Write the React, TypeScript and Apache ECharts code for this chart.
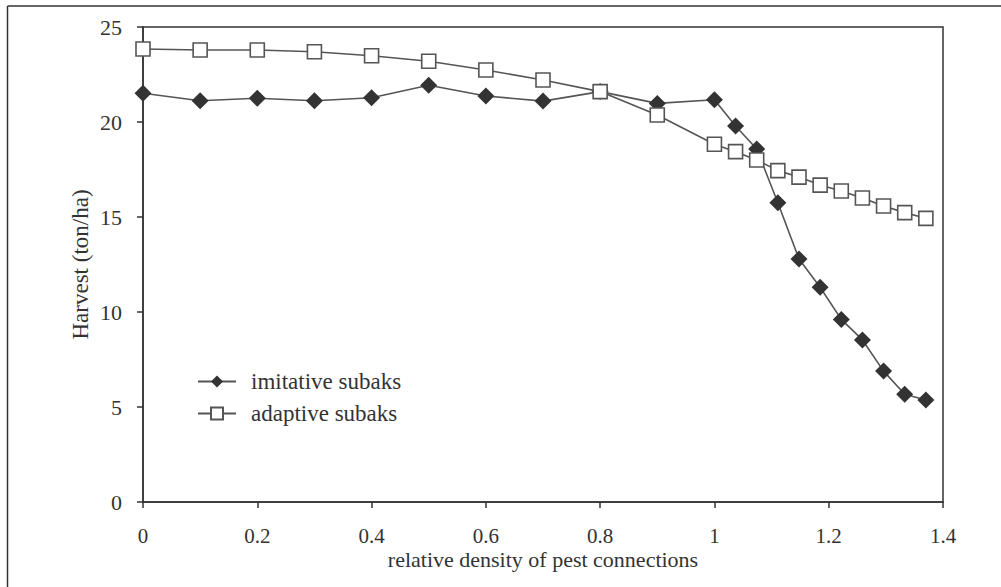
import React, { useEffect, useRef } from "react";
import * as echarts from "echarts";

const xValues = [0, 0.1, 0.2, 0.3, 0.4, 0.5, 0.6, 0.7, 0.8, 0.9, 1.0, 1.037, 1.074, 1.111, 1.148, 1.185, 1.222, 1.259, 1.296, 1.333, 1.37];
const imitative = [21.51, 21.12, 21.25, 21.12, 21.28, 21.93, 21.37, 21.1, 21.6, 20.98, 21.17, 19.79, 18.58, 15.75, 12.79, 11.3, 9.61, 8.53, 6.89, 5.67, 5.37];
const adaptive = [23.84, 23.79, 23.79, 23.7, 23.49, 23.2, 22.74, 22.21, 21.6, 20.37, 18.83, 18.44, 18.0, 17.44, 17.1, 16.68, 16.37, 16.0, 15.58, 15.23, 14.93];
const seriesNames = ["imitative subaks", "adaptive subaks"];
const xAxisTitle = "relative density of pest connections";
const yAxisTitle = "Harvest (ton/ha)";

const FONT = "Liberation Serif";
const INK = "#333333";

export default function App() {
  const ref = useRef<HTMLDivElement>(null);
  useEffect(() => {
    if (!ref.current) return;
    const chart = echarts.init(ref.current, null, { renderer: "svg" });
    const pair = (ys: number[]) => xValues.map((x, i) => [x, ys[i]]);
    chart.setOption({
      animation: false,
      backgroundColor: "#ffffff",
      textStyle: { fontFamily: FONT, color: INK },
      grid: {
        left: 143,
        right: 58,
        top: 27,
        bottom: 85,
        show: true,
        borderColor: INK,
        borderWidth: 1.5,
        backgroundColor: "transparent",
      },
      legend: {
        orient: "vertical",
        left: 192,
        top: 365,
        itemWidth: 38,
        itemHeight: 15,
        itemGap: 9,
        textStyle: { fontFamily: FONT, fontSize: 23, color: INK, padding: [0, 0, 0, 10] },
        data: seriesNames,
      },
      xAxis: {
        type: "value",
        min: 0,
        max: 1.4,
        interval: 0.2,
        name: xAxisTitle,
        nameLocation: "middle",
        nameGap: 48,
        nameMoveOverlap: false,
        nameTextStyle: { fontFamily: FONT, fontSize: 22, lineHeight: 18, color: INK },
        axisLine: { lineStyle: { color: INK, width: 1.5 } },
        axisTick: { show: true, length: 6, lineStyle: { color: INK, width: 1.5 } },
        axisLabel: {
          margin: 26,
          fontFamily: FONT,
          fontSize: 21,
          lineHeight: 16,
          color: INK,
          formatter: (v: number) => String(+v.toFixed(1)),
        },
        splitLine: { show: false },
      },
      yAxis: {
        type: "value",
        min: 0,
        max: 25,
        interval: 5,
        name: yAxisTitle,
        nameLocation: "middle",
        nameGap: 51,
        nameMoveOverlap: false,
        nameTextStyle: { fontFamily: FONT, fontSize: 23, color: INK },
        axisLine: { show: true, lineStyle: { color: INK, width: 1.5 } },
        axisTick: { show: true, length: 6, lineStyle: { color: INK, width: 1.5 } },
        axisLabel: { margin: 21, fontFamily: FONT, fontSize: 22, color: INK },
        splitLine: { show: false },
      },
      series: [
        {
          name: seriesNames[0],
          type: "line",
          data: pair(imitative),
          symbol: "diamond",
          symbolSize: 17,
          itemStyle: { color: "#333333", borderColor: "#333333", borderWidth: 0 },
          lineStyle: { color: "#555555", width: 1.6 },
          z: 3,
        },
        {
          name: seriesNames[1],
          type: "line",
          data: pair(adaptive),
          symbol: "rect",
          symbolSize: 14,
          itemStyle: { color: "#ffffff", borderColor: "#555555", borderWidth: 1.6 },
          lineStyle: { color: "#555555", width: 1.6 },
          z: 4,
        },
      ],
      graphic: [
        { type: "line", shape: { x1: 7.5, y1: 6, x2: 7.5, y2: 587 }, style: { stroke: INK, lineWidth: 1.5 } },
        { type: "line", shape: { x1: 7.5, y1: 6, x2: 1001, y2: 6 }, style: { stroke: INK, lineWidth: 1.5 } },
      ],
    });
    return () => chart.dispose();
  }, []);
  return (
    <div
      ref={ref}
      style={{ position: "fixed", left: 0, top: 0, width: 1001, height: 587 }}
    />
  );
}
